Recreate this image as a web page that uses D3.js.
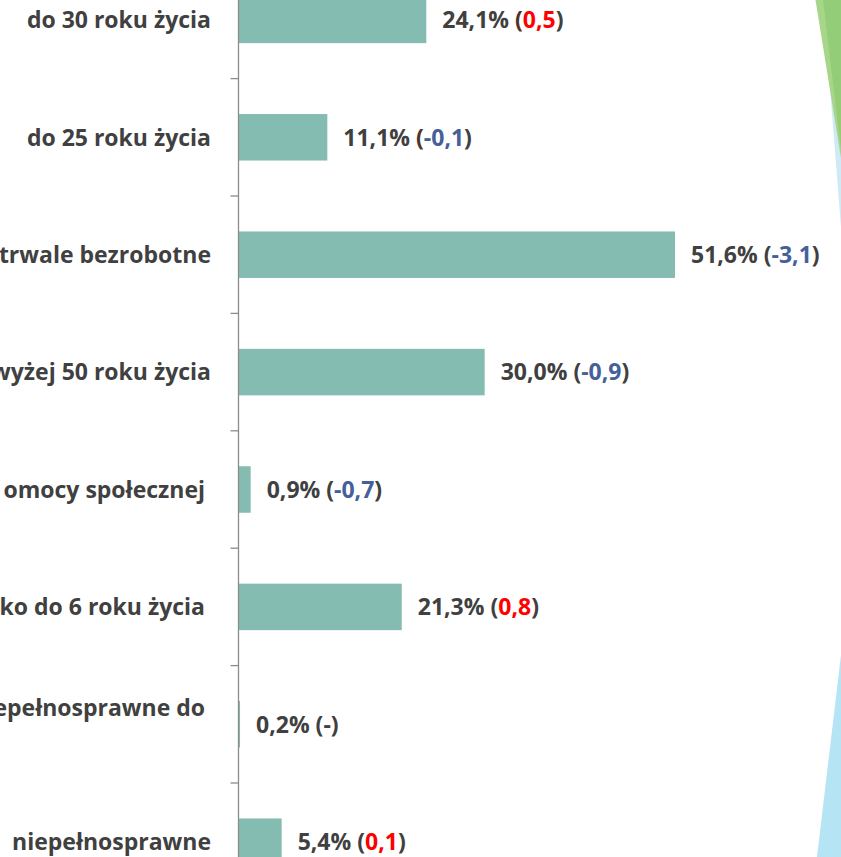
<!DOCTYPE html>
<html>
<head>
<meta charset="utf-8">
<script src="https://cdn.jsdelivr.net/npm/d3@7"></script>
<style>
  body { margin: 0; background: #fff; }
  #chart { width: 841px; height: 857px; }
</style>
</head>
<body>
<div id="chart"></div>
<script>
//Dane (slajd jest przycięty, więc etykiety kategorii są widoczne tylko częściowo)
const categories = [
    ['do 30 roku życia'],
    ['do 25 roku życia'],
    ['trwale bezrobotne'],
    ['wyżej 50 roku życia'],
    ['omocy społecznej'],
    ['ko do 6 roku życia'],
    ['epełnosprawne do', ''],
    ['niepełnosprawne']
];
//długość słupków
const barLengths = [22.2, 10.5, 51.6, 29.1, 1.44, 19.3, 0.18, 5.1];
//udział w %
const shares = [24.1, 11.1, 51.6, 30.0, 0.9, 21.3, 0.2, 5.4];
//zmiana w p.p. (null = brak zmiany)
const changes = [0.5, -0.1, -3.1, -0.9, -0.7, 0.8, null, 0.1];

//Kolory
const COLOR_BAR = '#85BCB1',
    COLOR_TEXT = '#404040',
    COLOR_UP = '#FF0000',
    COLOR_DOWN = '#44609A',
    COLOR_PAREN = '#4E3328',
    COLOR_AXIS = '#8C8C8C';

const pl = d3.formatLocale({ decimal: ',', thousands: ' ', grouping: [3], currency: ['', ' zł'], minus: '-' });
const fmt = pl.format('.1f');

const W = 841, H = 857;

let svg = d3.select('#chart')
    .append('svg')
    .attr('width', W)
    .attr('height', H)
    .style('font-family', '"Open Sans", sans-serif')
    .style('font-weight', 700);

//Tło slajdu - trójkąty po prawej stronie
let deco = svg.append('g');
deco.append('polygon').attr('points', '827,50 841,50 841,227').attr('fill', '#CFEAF7');
deco.append('polygon').attr('points', '815.5,0 841,0 841,158').attr('fill', '#A8D688');
deco.append('polygon').attr('points', '823,0 841,0 841,150').attr('fill', '#93CD77');
deco.append('polygon').attr('points', '841,655 841,857 817,857').attr('fill', '#B5E4F5');

//Skale
const n = categories.length;
const step = 117.4, firstCenter = 19.9;

let y = d3.scaleBand()
    .domain(d3.range(n))
    .range([firstCenter - step / 2, firstCenter + (n - 0.5) * step])
    .paddingInner(0.604)
    .paddingOuter(0.302);

let x = d3.scaleLinear()
    .domain([0, d3.max(barLengths)])
    .range([238.5, 675]);

//Słupki
svg.selectAll('.bars')
    .data(barLengths)
    .enter()
    .append('rect')
    .attr('class', 'bars')
    .attr('x', x(0))
    .attr('y', function(d, i) { return y(i); })
    .attr('width', function(d) { return x(d) - x(0); })
    .attr('height', y.bandwidth())
    .attr('fill', COLOR_BAR);

//Oś pionowa z kreskami między kategoriami
let axis = svg.append('g');
axis.append('line')
    .attr('x1', x(0)).attr('x2', x(0))
    .attr('y1', 0).attr('y2', H)
    .attr('stroke', COLOR_AXIS)
    .attr('stroke-width', 1.3);

axis.selectAll('.tick')
    .data(d3.range(n + 1))
    .enter()
    .append('line')
    .attr('class', 'tick')
    .attr('x1', x(0) - 8).attr('x2', x(0))
    .attr('y1', function(i) { return y.range()[0] + i * y.step(); })
    .attr('y2', function(i) { return y.range()[0] + i * y.step(); })
    .attr('stroke', COLOR_AXIS)
    .attr('stroke-width', 1.3);

//Etykiety kategorii
const wrappedRows = [4, 5, 6];
const lineHeight = 34;

svg.selectAll('.cat')
    .data(categories)
    .enter()
    .append('text')
    .attr('class', 'cat')
    .attr('text-anchor', 'end')
    .attr('fill', COLOR_TEXT)
    .style('font-size', '23px')
    .each(function(lines, i) {
        let cy = y(i) + y.bandwidth() / 2 - (lines.length - 1) * lineHeight / 2;
        let xr = wrappedRows.indexOf(i) >= 0 ? 205 : 211;
        d3.select(this).selectAll('tspan')
            .data(lines)
            .enter()
            .append('tspan')
            .attr('x', xr)
            .attr('y', function(d, j) { return cy + j * lineHeight; })
            .attr('dy', '0.36em')
            .text(function(d) { return d; });
    });

//Etykiety wartości: udział (zmiana)
let labels = svg.selectAll('.val')
    .data(barLengths)
    .enter()
    .append('text')
    .attr('class', 'val')
    .attr('x', function(d) { return x(d) + 16; })
    .attr('y', function(d, i) { return y(i) + y.bandwidth() / 2; })
    .attr('dy', '0.36em')
    .attr('fill', COLOR_TEXT)
    .style('font-size', '23px');

labels.each(function(d, i) {
    let t = d3.select(this);
    let c = changes[i];
    t.append('tspan').text(fmt(shares[i]) + '% ');
    t.append('tspan').text('(').attr('fill', i < 2 ? COLOR_PAREN : COLOR_TEXT);
    if (c === null) {
        t.append('tspan').text('-');
    } else {
        t.append('tspan').text(fmt(c)).attr('fill', c > 0 ? COLOR_UP : COLOR_DOWN);
    }
    t.append('tspan').text(')');
});
</script>
</body>
</html>
